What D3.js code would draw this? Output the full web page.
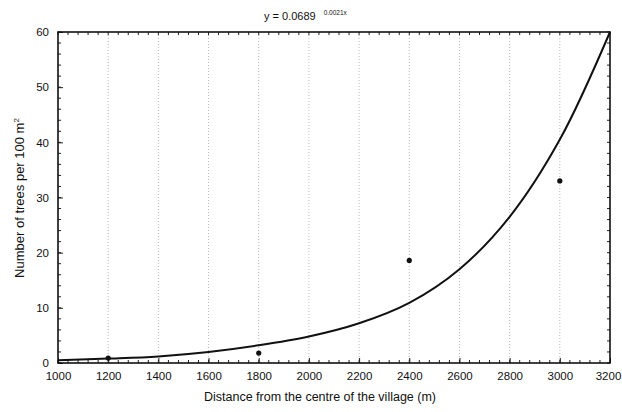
<!DOCTYPE html>
<html><head><meta charset="utf-8">
<script src="https://cdn.jsdelivr.net/npm/d3@7"></script>
<style>body{margin:0;background:#fff}svg{display:block}text{font-family:"Liberation Sans",Arial,sans-serif;fill:#111}</style>
</head><body>
<svg id="c" width="622" height="412"></svg>
<script>
// Observed data points
const distances = [1200, 1800, 2400, 3000];
const trees = [0.9, 1.8, 18.6, 33.0];
// Fitted trend line
const curveX = [1000, 1200, 1400, 1600, 1800, 2000, 2200, 2400, 2600, 2800, 3000, 3200];
const curveY = [0.5, 0.8, 1.2, 2.0, 3.2, 4.8, 7.2, 10.9, 17.0, 26.5, 40.5, 60];
const xTicks = [1000,1200,1400,1600,1800,2000,2200,2400,2600,2800,3000,3200];
const yTicks = [0,10,20,30,40,50,60];
const gridX = [1200,1400,1600,1800,2000,2200,2400,2600,2800,3000];

const svg = d3.select('#c');
const m = {l:58, r:610, t:32, b:363};
const x = d3.scaleLinear().domain([1000,3200]).range([m.l,m.r]);
const y = d3.scaleLinear().domain([0,60]).range([m.b,m.t]);

// gridlines
svg.append('g').selectAll('line').data(gridX).join('line')
  .attr('x1',d=>x(d)).attr('x2',d=>x(d)).attr('y1',m.t).attr('y2',m.b)
  .attr('stroke','#b8b8b8').attr('stroke-width',1).attr('stroke-dasharray','1,2');

// minor ticks (inside)
const minorX = d3.range(1000,3200.1,40);
const minorY = d3.range(0,60.1,2);
const tk = svg.append('g').attr('stroke','#222').attr('stroke-width',1);
minorX.forEach(v=>{
  tk.append('line').attr('x1',x(v)).attr('x2',x(v)).attr('y1',m.b).attr('y2',m.b-3);
  tk.append('line').attr('x1',x(v)).attr('x2',x(v)).attr('y1',m.t).attr('y2',m.t+3);
});
minorY.forEach(v=>{
  tk.append('line').attr('x1',m.l).attr('x2',m.l+3).attr('y1',y(v)).attr('y2',y(v));
  tk.append('line').attr('x1',m.r).attr('x2',m.r-3).attr('y1',y(v)).attr('y2',y(v));
});

// axes
const xAxis = d3.axisBottom(x).tickValues(xTicks).tickFormat(d3.format('d')).tickSizeInner(-5).tickSizeOuter(0).tickPadding(9);
const gx = svg.append('g').attr('transform',`translate(0,${m.b})`).call(xAxis);
const yAxis = d3.axisLeft(y).tickValues(yTicks).tickSizeInner(-5).tickSizeOuter(0).tickPadding(9);
const gy = svg.append('g').attr('transform',`translate(${m.l},0)`).call(yAxis);
[gx,gy].forEach(g=>{
  g.select('.domain').remove();
  g.selectAll('.tick line').attr('stroke','#222');
  g.selectAll('.tick text').attr('font-size',11.5).attr('font-family','"Liberation Sans",Arial,sans-serif').attr('fill','#111');
});
gx.selectAll('.tick text').filter(d=>d===3200).attr('dx',-2);

// frame
svg.append('rect').attr('x',m.l).attr('y',m.t).attr('width',m.r-m.l).attr('height',m.b-m.t)
  .attr('fill','none').attr('stroke','#111').attr('stroke-width',1.6);

// trend curve
const line = d3.line().x(d=>x(d[0])).y(d=>y(d[1])).curve(d3.curveCatmullRom);
svg.append('path').datum(curveX.map((v,i)=>[v,curveY[i]])).attr('d',line)
  .attr('fill','none').attr('stroke','#111').attr('stroke-width',2);

// points
svg.append('g').selectAll('circle').data(distances.map((v,i)=>[v,trees[i]])).join('circle')
  .attr('cx',d=>x(d[0])).attr('cy',d=>y(d[1])).attr('r',2.6).attr('fill','#111');

// title
const t = svg.append('text').attr('x',264).attr('y',20).attr('font-size',11);
t.append('tspan').text('y = 0.0689');
t.append('tspan').attr('dx',8).attr('dy',-5).attr('font-size',6.5).text('0.0021x');

// axis titles
svg.append('text').attr('x',320).attr('y',401).attr('text-anchor','middle').attr('font-size',12.5)
  .text('Distance from the centre of the village (m)');
const yt = svg.append('text').attr('transform','translate(24,198) rotate(-90)').attr('text-anchor','middle').attr('font-size',13);
yt.append('tspan').text('Number of trees per 100 m');
yt.append('tspan').attr('dy',-5).attr('font-size',8).text('2');
</script>
</body></html>
